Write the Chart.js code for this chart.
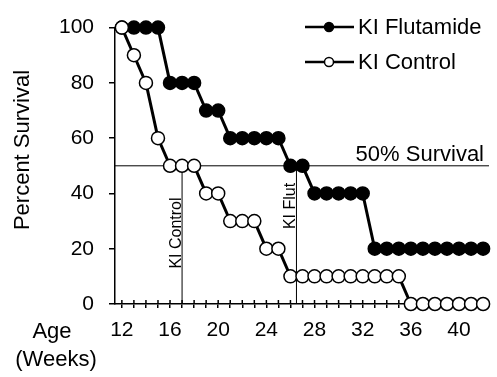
<!DOCTYPE html>
<html>
<head>
<meta charset="utf-8">
<script src="https://cdn.jsdelivr.net/npm/chart.js@4.4.0/dist/chart.umd.min.js"></script>
<style>
  html, body { margin: 0; padding: 0; background: #fff; }
  #chart { display: block; }
</style>
</head>
<body>
<canvas id="chart" width="497" height="377"></canvas>
<script>
'use strict';

/* ── data ── */
const weeks     = [12,13,14,15,16,17,18,19,20,21,22,23,24,25,26,27,28,29,30,31,32,33,34,35,36,37,38,39,40,41,42];
const flutamide = [100,100,100,100,80,80,80,70,70,60,60,60,60,60,50,50,40,40,40,40,40,20,20,20,20,20,20,20,20,20,20];
const control   = [100,90,80,60,50,50,50,40,40,30,30,30,20,20,10,10,10,10,10,10,10,10,10,10,0,0,0,0,0,0,0];
const yTicks    = [0,20,40,60,80,100];
const xLabels   = [12,16,20,24,28,32,36,40];
const medianControl = 17;
const medianFlut    = 26.5;
const survivalPct   = 50;
const xMin = 11.43, xMax = 42.49;

const FONT = '"Liberation Sans", Arial, sans-serif';
const INK  = '#000';

const pts = arr => weeks.map((w, i) => ({ x: w, y: arr[i] }));

/* ── extra texts, legend and up-ticks ── */
const extras = {
  id: 'extras',
  beforeDatasetsDraw(chart) {
    const { ctx, scales: { x } } = chart;
    const y0 = chart.chartArea.bottom;
    ctx.save();
    ctx.strokeStyle = INK;
    ctx.lineWidth = 1.5;
    x.ticks.forEach(t => {
      const px = x.getPixelForValue(t.value);
      ctx.beginPath();
      ctx.moveTo(px, y0);
      ctx.lineTo(px, y0 - 4);
      ctx.stroke();
    });
    ctx.restore();
  },
  afterDatasetsDraw(chart) {
    const { ctx, scales: { x, y } } = chart;
    ctx.save();
    ctx.fillStyle = INK;

    // y title
    ctx.font = '22px ' + FONT;
    ctx.textAlign = 'center';
    ctx.textBaseline = 'alphabetic';
    ctx.save();
    ctx.translate(29, 150);
    ctx.rotate(-Math.PI / 2);
    ctx.fillText('Percent Survival', 0, 0);
    ctx.restore();

    // x title
    ctx.fillText('Age', 52, 338);
    ctx.fillText('(Weeks)', 56, 366);

    // 50% label
    ctx.textAlign = 'right';
    ctx.fillText('50% Survival', 484, y.getPixelForValue(survivalPct) - 5);

    // median labels
    ctx.font = '16px ' + FONT;
    ctx.textAlign = 'center';
    [[medianControl, 'KI Control', 233], [medianFlut, 'KI Flut', 206]].forEach(([v, txt, cy]) => {
      ctx.save();
      ctx.translate(x.getPixelForValue(v) - 1.5, cy);
      ctx.rotate(-Math.PI / 2);
      ctx.fillText(txt, 0, 0);
      ctx.restore();
    });

    // legend
    ctx.font = '22px ' + FONT;
    ctx.textAlign = 'left';
    ctx.textBaseline = 'middle';
    chart.data.datasets.filter(d => d.label).forEach((d, i) => {
      const ly = 27 + i * 35;
      ctx.strokeStyle = INK;
      ctx.lineWidth = 2.5;
      ctx.beginPath();
      ctx.moveTo(305, ly);
      ctx.lineTo(354, ly);
      ctx.stroke();
      ctx.beginPath();
      ctx.arc(329, ly, 4.5, 0, Math.PI * 2);
      ctx.fillStyle = d.pointBackgroundColor;
      ctx.fill();
      ctx.lineWidth = 1.5;
      ctx.stroke();
      ctx.fillStyle = INK;
      ctx.fillText(d.label, 358, ly + 1);
    });
    ctx.restore();
  }
};

const refLine = data => ({
  data, borderColor: INK, borderWidth: 1, pointRadius: 0,
  fill: false, order: 3, clip: false
});

new Chart(document.getElementById('chart'), {
  type: 'line',
  data: {
    datasets: [
      {
        label: 'KI Flutamide',
        data: pts(flutamide),
        borderColor: INK, borderWidth: 3,
        pointRadius: 6.5, pointBorderWidth: 1.5,
        pointBackgroundColor: INK, pointBorderColor: INK,
        order: 1, clip: false
      },
      {
        label: 'KI Control',
        data: pts(control),
        borderColor: INK, borderWidth: 3,
        pointRadius: 6.5, pointBorderWidth: 1.5,
        pointBackgroundColor: '#fff', pointBorderColor: INK,
        order: 0, clip: false
      },
      refLine([{ x: xMin, y: survivalPct }, { x: xMax, y: survivalPct }]),
      refLine([{ x: medianControl, y: 0 }, { x: medianControl, y: survivalPct }]),
      refLine([{ x: medianFlut, y: 0 }, { x: medianFlut, y: survivalPct }])
    ]
  },
  options: {
    responsive: false,
    animation: false,
    layout: { padding: { top: 22, left: 0, right: 0, bottom: 0 } },
    plugins: { legend: { display: false }, tooltip: { enabled: false } },
    elements: { line: { tension: 0 } },
    scales: {
      x: {
        type: 'linear', min: xMin, max: xMax,
        afterBuildTicks: s => { s.ticks = weeks.map(v => ({ value: v })); },
        afterFit: s => { s.height = 73; },
        ticks: {
          autoSkip: false, maxRotation: 0, padding: 10,
          color: INK, font: { family: FONT, size: 21 },
          callback: v => xLabels.includes(v) ? String(v) : ''
        },
        grid: { drawOnChartArea: false, color: INK, lineWidth: 1.5, tickLength: 4 },
        border: { color: INK, width: 1.5 }
      },
      y: {
        min: 0, max: 100,
        afterBuildTicks: s => { s.ticks = yTicks.map(v => ({ value: v })); },
        afterFit: s => { s.width = 115; },
        ticks: { padding: 15, color: INK, font: { family: FONT, size: 21 } },
        grid: { drawOnChartArea: false, color: INK, lineWidth: 1.5, tickLength: 6 },
        border: { color: INK, width: 1.5 }
      }
    }
  },
  plugins: [extras]
});
</script>
</body>
</html>
